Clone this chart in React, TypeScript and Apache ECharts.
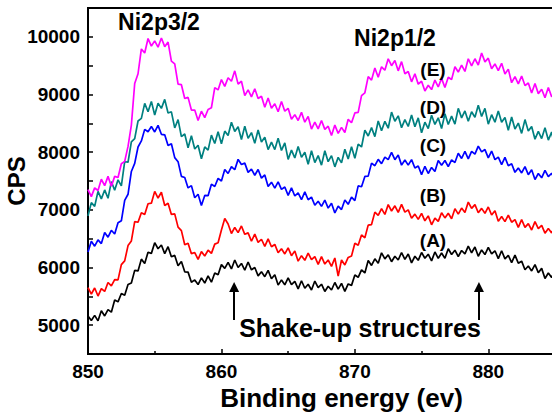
import React, { useEffect, useRef } from "react";
import * as echarts from "echarts";

const X_START = 850;
const X_STEP = 0.25;

const A_VALUES = [5160,5080,5170,5075,5250,5160,5270,5225,5435,5405,
5550,5520,5705,5730,5950,5940,6145,6070,6265,6245,
6430,6325,6390,6240,6360,6185,6210,6030,6105,5925,
5920,5745,5785,5705,5820,5730,5855,5745,5905,5875,
6050,5985,6090,5975,6130,6000,6070,5955,6095,5960,
6000,5855,5925,5840,5950,5805,5875,5695,5785,5700,
5820,5705,5760,5630,5770,5640,5710,5610,5765,5650,
5710,5585,5675,5610,5740,5625,5725,5585,5715,5690,
5870,5830,5960,5905,6120,6035,6150,6075,6255,6150,
6220,6100,6195,6130,6260,6140,6235,6080,6195,6125,
6260,6160,6230,6115,6270,6160,6250,6160,6325,6225,
6300,6190,6295,6235,6370,6255,6355,6195,6305,6225,
6350,6235,6290,6155,6290,6150,6210,6085,6215,6075,
6110,5960,6025,5940,6050,5910,5985,5810,5905,5825,
5950];

const B_VALUES = [5650,5540,5645,5505,5635,5585,5740,5680,5790,5785,
6050,6115,6380,6460,6795,6785,6950,6920,7105,7115,
7320,7205,7305,7075,7115,6920,6930,6700,6640,6395,
6420,6240,6260,6140,6275,6200,6300,6245,6405,6430,
6650,6850,6755,6590,6695,6605,6720,6575,6600,6455,
6580,6435,6490,6365,6495,6360,6400,6255,6325,6235,
6340,6205,6285,6110,6205,6125,6250,6135,6190,6055,
6190,6060,6130,6020,6165,5850,6130,6045,6175,6200,
6420,6385,6565,6515,6735,6745,6960,6905,7020,6920,
7090,6980,7070,6955,7095,6960,7000,6855,6925,6835,
6940,6810,6895,6740,6855,6800,6950,6860,6940,6845,
7020,6925,7030,6955,7135,7025,7090,6950,7025,6940,
7050,6910,6985,6800,6885,6795,6910,6785,6830,6695,
6830,6695,6760,6650,6795,6675,6730,6595,6675,6600,
6720];

const C_VALUES = [6270,6455,6370,6480,6415,6605,6525,6645,6580,6775,
6810,7165,7270,7665,7805,8090,8195,8395,8355,8445,
8350,8465,8310,8300,8115,8145,7905,7835,7580,7560,
7380,7420,7210,7270,7075,7250,7245,7445,7405,7545,
7500,7700,7630,7750,7695,7875,7785,7810,7650,7705,
7600,7700,7550,7605,7405,7480,7375,7485,7355,7395,
7250,7380,7240,7295,7175,7310,7175,7220,7080,7150,
7060,7170,7030,7115,6945,7065,7005,7170,7095,7220,
7160,7415,7400,7580,7585,7810,7765,7875,7800,7915,
7870,7995,7870,7950,7775,7865,7775,7870,7725,7760,
7610,7755,7630,7735,7665,7855,7775,7855,7750,7865,
7820,7980,7890,8015,7885,8015,7965,8105,8005,8045,
7900,8020,7870,7915,7785,7910,7765,7800,7650,7725,
7640,7750,7610,7695,7525,7630,7555,7685,7575,7635,
7510];

const D_VALUES = [6895,7125,7060,7320,7190,7345,7200,7490,7340,7520,
7415,7835,7825,8180,8235,8540,8585,8845,8700,8880,
8645,8850,8760,8915,8680,8700,8420,8565,8270,8315,
8075,8285,8055,8120,7885,8090,8035,8295,8150,8355,
8145,8365,8290,8520,8360,8440,8220,8450,8240,8340,
8155,8385,8175,8260,8045,8175,8045,8240,8030,8160,
7875,8035,7900,8100,7910,8000,7790,8025,7820,7940,
7775,8025,7835,7940,7745,7910,7815,8050,7880,8095,
7895,8140,8090,8380,8280,8425,8270,8540,8370,8535,
8415,8695,8535,8630,8425,8565,8445,8645,8440,8595,
8335,8520,8410,8640,8480,8595,8410,8665,8480,8625,
8485,8760,8595,8715,8535,8700,8605,8815,8620,8760,
8485,8650,8520,8715,8520,8600,8380,8610,8400,8505,
8325,8565,8365,8445,8225,8360,8235,8425,8210,8350,
8075];

const E_VALUES = [7350,7230,7380,7335,7530,7420,7580,7410,7580,7560,
7800,7840,8100,8470,9190,9360,9790,9720,9970,9840,
9930,9820,9980,9830,9910,9580,9530,9180,9170,8930,
8950,8730,8730,8550,8710,8600,8740,8770,9120,9080,
9260,9140,9290,9230,9410,9180,9230,8980,9080,8960,
9100,8930,8970,8780,8940,8760,8840,8700,8880,8710,
8760,8570,8650,8550,8690,8520,8620,8400,8520,8405,
8550,8395,8450,8290,8470,8325,8430,8340,8570,8510,
8680,8690,8980,9030,9310,9250,9460,9300,9480,9420,
9620,9500,9590,9410,9570,9360,9400,9220,9360,9180,
9230,9060,9160,9085,9250,9130,9280,9120,9300,9260,
9480,9390,9510,9400,9620,9495,9620,9510,9720,9565,
9630,9445,9530,9415,9540,9355,9440,9205,9310,9185,
9320,9155,9200,9025,9190,9015,9090,8945,9120,8960,
9020];

const SERIES_NAMES = ["(A)", "(B)", "(C)", "(D)", "(E)"];
const SERIES_COLORS = ["#000000", "#ff0000", "#0000ff", "#008080", "#ff00ff"];
const SERIES_VALUES = [A_VALUES, B_VALUES, C_VALUES, D_VALUES, E_VALUES];

const ARROW_X = [860.95, 879.3];
const ARROW_FROM = 5090;
const ARROW_TO = 5660;

const FONT = "'Liberation Sans', Arial, sans-serif";

export default function App() {
  const ref = useRef<HTMLDivElement>(null);
  useEffect(() => {
    if (!ref.current) return;
    const chart = echarts.init(ref.current, undefined, { renderer: "svg" });
    const toData = (vals: number[]) => vals.map((v, i) => [X_START + i * X_STEP, v]);
    const series: any[] = SERIES_VALUES.map((vals, k) => ({
      name: SERIES_NAMES[k],
      type: "line",
      data: toData(vals),
      showSymbol: false,
      symbol: "none",
      lineStyle: { color: SERIES_COLORS[k], width: 1.7 },
      itemStyle: { color: SERIES_COLORS[k] },
      silent: true,
      z: 2 + k,
    }));
    series[0].markLine = {
      silent: true,
      symbol: ["none", "triangle"],
      symbolSize: 10,
      lineStyle: { color: "#000", width: 2, type: "solid" },
      label: { show: false },
      data: ARROW_X.map((x) => [{ coord: [x, ARROW_FROM] }, { coord: [x, ARROW_TO] }]),
    };
    const labelText = (text: string, x: number, y: number, size: number) => ({
      type: "text",
      x,
      y,
      style: {
        text,
        fill: "#000",
        font: `bold ${size}px ${FONT}`,
        align: "center",
        verticalAlign: "middle",
      },
      z: 100,
    });
    chart.setOption({
      animation: false,
      backgroundColor: "#fff",
      grid: {
        left: 88,
        top: 8,
        right: -3,
        bottom: 58,
        containLabel: false,
        outerBoundsMode: "none",
        show: true,
        borderColor: "#000",
        borderWidth: 2,
        backgroundColor: "transparent",
      },
      xAxis: {
        type: "value",
        min: 850,
        max: 885,
        interval: 10,
        name: "Binding energy (ev)",
        nameLocation: "middle",
        nameGap: 31,
        nameMoveOverlap: false,
        nameTextStyle: {
          fontFamily: FONT,
          fontWeight: "bold",
          fontSize: 26,
          color: "#000",
          padding: [0, 0, 0, 40],
        },
        axisLine: { show: true, lineStyle: { color: "#000", width: 2 } },
        axisTick: { show: true, inside: true, length: 5, lineStyle: { color: "#000", width: 1.5 } },
        minorTick: { show: true, splitNumber: 2, length: 3, lineStyle: { color: "#000", width: 1.5 } },
        splitLine: { show: false },
        axisLabel: {
          fontFamily: FONT,
          fontWeight: "bold",
          fontSize: 19,
          color: "#000",
          margin: 8,
          formatter: (v: number) => (Math.abs(v % 10) < 1e-6 ? String(v) : ""),
        },
      },
      yAxis: {
        type: "value",
        min: 4500,
        max: 10500,
        interval: 500,
        name: "CPS",
        nameLocation: "middle",
        nameGap: 60,
        nameMoveOverlap: false,
        nameTextStyle: { fontFamily: FONT, fontWeight: "bold", fontSize: 24, color: "#000" },
        axisLine: { show: true, lineStyle: { color: "#000", width: 2 } },
        axisTick: { show: true, inside: true, length: 5, lineStyle: { color: "#000", width: 1.5 } },
        splitLine: { show: false },
        axisLabel: {
          fontFamily: FONT,
          fontWeight: "bold",
          fontSize: 19,
          color: "#000",
          margin: 8,
          formatter: (v: number) => (v % 1000 === 0 && v >= 5000 && v <= 10000 ? String(v) : ""),
        },
      },
      graphic: [
        labelText("Ni2p3/2", 159, 22, 23),
        labelText("Ni2p1/2", 395, 38, 23),
        labelText("(E)", 433, 69, 19),
        labelText("(D)", 433, 107, 19),
        labelText("(C)", 433, 145, 19),
        labelText("(B)", 433, 195, 19),
        labelText("(A)", 433, 240, 19),
        labelText("Shake-up structures", 360, 328, 25),
      ],
      series,
    });
    return () => chart.dispose();
  }, []);
  return (
    <div
      ref={ref}
      style={{ position: "absolute", left: 0, top: 0, width: 552, height: 412, background: "#fff" }}
    />
  );
}
